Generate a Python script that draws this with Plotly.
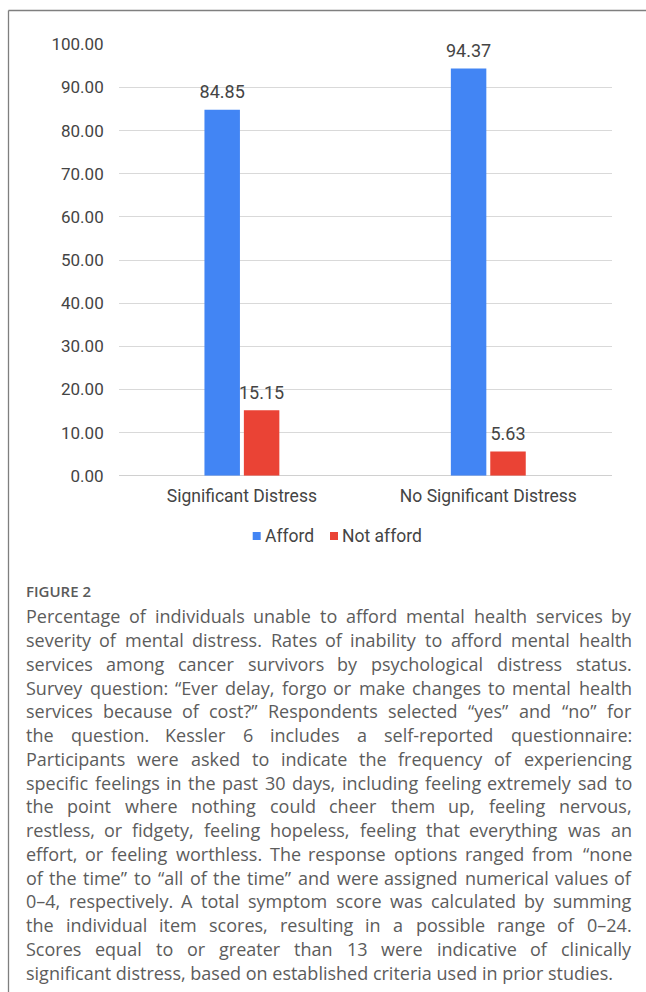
import plotly.graph_objects as go

# ---------------- data ----------------
categories = ["Significant Distress", "No Significant Distress"]
series_names = ["Afford", "Not afford"]
afford = [84.85, 94.37]
not_afford = [15.15, 5.63]
series_values = [afford, not_afford]
series_colors = ["#4285F4", "#EA4335"]

figure_label = "FIGURE 2"
caption_lines = [
    "Percentage of individuals unable to afford mental health services by",
    "severity of mental distress. Rates of inability to afford mental health",
    "services among cancer survivors by psychological distress status.",
    "Survey question: \u201cEver delay, forgo or make changes to mental health",
    "services because of cost?\u201d Respondents selected \u201cyes\u201d and \u201cno\u201d for",
    "the question. Kessler 6 includes a self-reported questionnaire:",
    "Participants were asked to indicate the frequency of experiencing",
    "specific feelings in the past 30 days, including feeling extremely sad to",
    "the point where nothing could cheer them up, feeling nervous,",
    "restless, or fidgety, feeling hopeless, feeling that everything was an",
    "effort, or feeling worthless. The response options ranged from \u201cnone",
    "of the time\u201d to \u201call of the time\u201d and were assigned numerical values of",
    "0\u20134, respectively. A total symptom score was calculated by summing",
    "the individual item scores, resulting in a possible range of 0\u201324.",
    "Scores equal to or greater than 13 were indicative of clinically",
    "significant distress, based on established criteria used in prior studies.",
]

# ---------------- layout constants ----------------
W, H = 646, 992
TXT = "#444444"
CAP = "#5c5c5c"


def px(x):
    return x / W


def py(y):
    return 1 - y / H


# approximate Open Sans advance widths (units per em = 2048)
OS = {
    " ": 532, "!": 565, "\"": 821, "'": 383, "(": 598, ")": 598, ",": 502, "-": 659,
    ".": 545, "/": 752, ":": 545, ";": 545, "?": 879, "\u201c": 805, "\u201d": 805,
    "\u2013": 1024,
    "A": 1296, "B": 1327, "C": 1292, "D": 1493, "E": 1139, "F": 1057, "G": 1491,
    "H": 1511, "I": 571, "J": 547, "K": 1257, "L": 1073, "M": 1849, "N": 1544,
    "O": 1595, "P": 1233, "Q": 1595, "R": 1266, "S": 1124, "T": 1133, "U": 1491,
    "V": 1219, "W": 1896, "X": 1182, "Y": 1147, "Z": 1169,
    "a": 1139, "b": 1255, "c": 975, "d": 1255, "e": 1149, "f": 694, "g": 1122,
    "h": 1257, "i": 518, "j": 518, "k": 1075, "l": 518, "m": 1905, "n": 1257,
    "o": 1237, "p": 1255, "q": 1255, "r": 836, "s": 977, "t": 723, "u": 1257,
    "v": 1026, "w": 1593, "x": 1073, "y": 1028, "z": 977,
}


def text_width(s, size):
    return sum(OS.get(c, 1171) for c in s) / 2048 * size


fig = go.Figure()

for name, vals, col in zip(series_names, series_values, series_colors):
    fig.add_trace(go.Bar(
        x=categories, y=vals, name=name, marker_color=col,
        marker_line_width=0, showlegend=False, offsetgroup=name,
    ))

for name, vals in zip(series_names, series_values):
    fig.add_trace(go.Scatter(
        x=categories, y=vals, mode="markers+text", offsetgroup=name,
        orientation="v",
        text=[f"{v:.2f}" for v in vals], textposition="top center",
        textfont=dict(family="Roboto", size=18, color=TXT),
        marker=dict(size=10, opacity=0), cliponaxis=False,
        showlegend=False, hoverinfo="skip",
    ))

x0, x1 = 118.7, 611.5
y_top, y_bot = 44.3, 475.7

fig.update_layout(
    width=W, height=H,
    margin=dict(l=0, r=0, t=0, b=0, autoexpand=False),
    paper_bgcolor="white", plot_bgcolor="white",
    barmode="group", bargap=0.68, bargroupgap=0.1,
    scattermode="group", scattergap=0.68,
    showlegend=False,
    xaxis=dict(
        domain=[px(x0), px(x1)], showgrid=False, showline=False, ticks="",
        tickfont=dict(family="Roboto", size=17.5, color=TXT),
        ticklabelstandoff=8, automargin=False,
    ),
    yaxis=dict(
        domain=[py(y_bot), py(y_top)], range=[0, 100], dtick=10,
        tickformat=".2f", showgrid=True, gridcolor="#d9d9d9", gridwidth=1.2,
        zeroline=True, zerolinecolor="#d0d0d0", zerolinewidth=1.2,
        showline=False, ticks="",
        tickfont=dict(family="Roboto", size=17, color=TXT),
        ticklabelstandoff=14, automargin=False,
    ),
)

shapes = []
# frame (top and left border)
shapes.append(dict(type="line", xref="paper", yref="paper", x0=px(8.5), x1=1,
                   y0=py(10.5), y1=py(10.5), line=dict(color="#7f7f7f", width=1.3)))
shapes.append(dict(type="line", xref="paper", yref="paper", x0=px(8.5), x1=px(8.5),
                   y0=py(10.5), y1=0, line=dict(color="#7f7f7f", width=1.3)))
# legend swatches
sw = [(252.7, 260.7), (330, 338)]
for (a, b), col in zip(sw, series_colors):
    shapes.append(dict(type="rect", xref="paper", yref="paper", x0=px(a), x1=px(b),
                       y0=py(540), y1=py(532), fillcolor=col, line=dict(width=0)))
fig.update_layout(shapes=shapes)

ann = []
# legend labels
for name, xl in zip(series_names, [265, 342]):
    ann.append(dict(xref="paper", yref="paper", x=px(xl), y=py(535.5), text=name,
                    showarrow=False, xanchor="left", yanchor="middle",
                    borderpad=0, borderwidth=0,
                    font=dict(family="Roboto", size=17.5, color=TXT)))

# figure label
ann.append(dict(xref="paper", yref="paper", x=px(26), y=py(591.0), text=figure_label,
                showarrow=False, xanchor="left", yanchor="middle", borderpad=0, borderwidth=0,
                font=dict(family="Open Sans", size=15, color="#5a5a5a", weight=600)))

# caption (justified)
FS = 18
left, right = 26, 631.5
base0, step = 623.5, 23.75
for i, line in enumerate(caption_lines):
    yb = base0 + i * step
    yc = py(yb - 0.39 * FS)
    font = dict(family="Open Sans", size=FS, color=CAP)
    if i == len(caption_lines) - 1:
        ann.append(dict(xref="paper", yref="paper", x=px(left), y=yc, text=line,
                        showarrow=False, xanchor="left", yanchor="middle",
                        borderpad=0, borderwidth=0, font=font))
        continue
    words = line.split(" ")
    widths = [text_width(w, FS) for w in words]
    gap = (right - left - sum(widths)) / (len(words) - 1)
    pos = left
    for j, (w, wd) in enumerate(zip(words, widths)):
        if j == 0:
            x, anc = pos, "left"
        elif j == len(words) - 1:
            x, anc = right, "right"
        else:
            x, anc = pos + wd / 2, "center"
        ann.append(dict(xref="paper", yref="paper", x=px(x), y=yc, text=w,
                        showarrow=False, xanchor=anc, yanchor="middle",
                        borderpad=0, borderwidth=0, font=font))
        pos += wd + gap

fig.update_layout(annotations=ann)

fig.write_html("out.html")
